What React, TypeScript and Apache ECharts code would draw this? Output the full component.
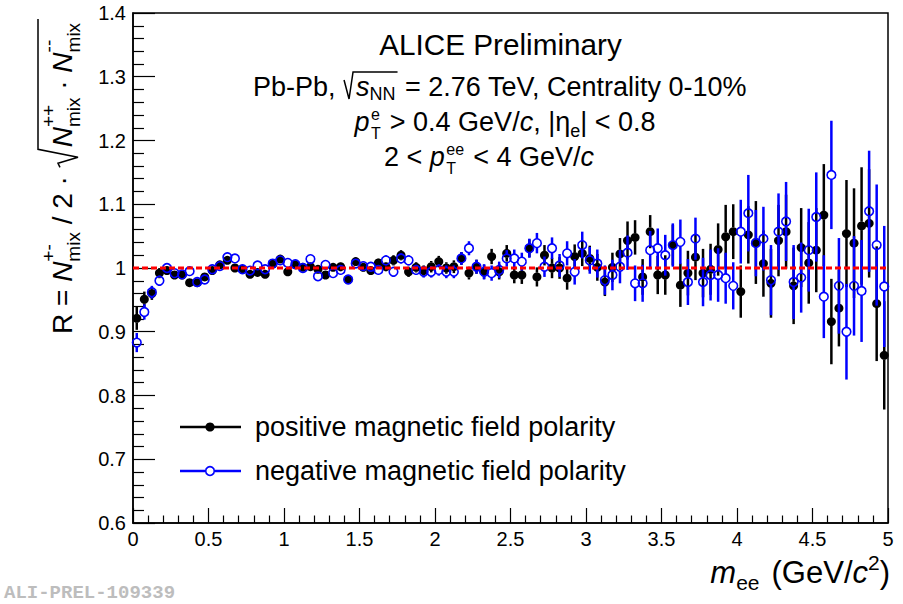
import React, { useEffect, useRef } from 'react';
import * as echarts from 'echarts';

// ---------------- data ----------------
const X_MIN = 0;
const X_MAX = 5;
const Y_MIN = 0.6;
const Y_MAX = 1.4;
const BIN_WIDTH = 0.05; // GeV/c^2, bin centres at 0.025, 0.075, ...

// positive magnetic field polarity (black, filled)
const posValues = [
  0.921, 0.951, 0.960, 0.992, 0.996, 0.989, 0.989, 0.977, 0.977, 0.986,
  0.996, 1.005, 1.012, 1.000, 0.998, 0.990, 0.993, 0.990, 1.006, 1.014,
  0.994, 1.005, 1.001, 1.002, 0.998, 0.989, 1.001, 1.002, 0.982, 1.010,
  1.001, 0.996, 1.008, 1.002, 1.012, 1.020, 0.994, 1.001, 0.996, 1.002,
  1.010, 1.000, 1.002, 1.015, 0.992, 1.002, 0.994, 1.018, 0.994, 1.023,
  0.989, 0.989, 1.031, 0.986, 1.020, 1.000, 1.000, 0.984, 1.018, 1.023,
  1.015, 1.001, 0.978, 1.001, 1.022, 1.043, 1.048, 0.986, 1.057, 0.989,
  0.989, 1.036, 0.973, 0.992, 1.017, 0.992, 0.998, 1.029, 1.049, 1.057,
  0.963, 1.052, 1.040, 1.007, 0.976, 1.043, 1.057, 0.972, 1.032, 1.008,
  1.028, 1.083, 0.916, 0.937, 1.054, 1.039, 1.066, 1.070, 0.944, 0.863,
];
const posErrors = [
  0.018, 0.012, 0.010, 0.008, 0.007, 0.006, 0.006, 0.006, 0.006, 0.006,
  0.006, 0.006, 0.006, 0.006, 0.006, 0.006, 0.006, 0.006, 0.006, 0.006,
  0.006, 0.006, 0.006, 0.006, 0.006, 0.006, 0.006, 0.007, 0.007, 0.007,
  0.007, 0.007, 0.007, 0.007, 0.008, 0.008, 0.008, 0.008, 0.008, 0.009,
  0.009, 0.009, 0.010, 0.010, 0.010, 0.011, 0.011, 0.012, 0.012, 0.013,
  0.013, 0.014, 0.014, 0.015, 0.016, 0.016, 0.017, 0.018, 0.019, 0.020,
  0.020, 0.021, 0.022, 0.023, 0.025, 0.030, 0.027, 0.028, 0.026, 0.030,
  0.031, 0.032, 0.034, 0.035, 0.036, 0.038, 0.040, 0.041, 0.050, 0.043,
  0.041, 0.045, 0.065, 0.052, 0.054, 0.056, 0.058, 0.060, 0.062, 0.064,
  0.066, 0.080, 0.067, 0.060, 0.084, 0.086, 0.092, 0.085, 0.090, 0.085,
];

// negative magnetic field polarity (blue, open)
const negValues = [
  0.883, 0.931, 0.962, 0.980, 1.000, 0.992, 0.990, 0.995, 0.978, 0.982,
  0.998, 1.003, 1.017, 1.015, 0.998, 0.996, 1.004, 0.998, 1.007, 1.012,
  1.008, 1.006, 1.000, 1.014, 0.987, 1.005, 0.992, 0.997, 0.982, 1.007,
  1.003, 1.002, 0.997, 1.012, 0.994, 1.015, 1.012, 0.997, 0.994, 0.994,
  0.997, 0.994, 0.994, 1.015, 1.031, 1.002, 0.994, 0.992, 0.997, 1.015,
  1.015, 1.010, 1.031, 1.039, 1.002, 1.031, 1.004, 1.023, 0.994, 1.036,
  1.012, 1.007, 0.981, 0.989, 1.002, 1.024, 0.976, 0.976, 1.028, 1.031,
  1.020, 1.036, 1.041, 0.978, 1.046, 0.978, 0.989, 0.989, 0.984, 0.972,
  1.057, 1.086, 1.039, 1.046, 0.981, 1.057, 1.073, 0.978, 0.985, 1.028,
  1.080, 0.955, 1.146, 0.972, 0.900, 0.972, 0.964, 1.089, 1.036, 0.971,
];
const negErrors = [
  0.015, 0.012, 0.010, 0.008, 0.007, 0.006, 0.006, 0.006, 0.006, 0.006,
  0.006, 0.006, 0.006, 0.006, 0.006, 0.006, 0.006, 0.006, 0.006, 0.006,
  0.006, 0.006, 0.006, 0.006, 0.006, 0.006, 0.007, 0.007, 0.007, 0.007,
  0.007, 0.007, 0.007, 0.008, 0.008, 0.008, 0.008, 0.008, 0.009, 0.009,
  0.009, 0.010, 0.010, 0.010, 0.011, 0.011, 0.012, 0.012, 0.013, 0.013,
  0.014, 0.014, 0.015, 0.016, 0.016, 0.017, 0.018, 0.019, 0.020, 0.021,
  0.021, 0.022, 0.023, 0.024, 0.026, 0.027, 0.028, 0.029, 0.030, 0.031,
  0.032, 0.034, 0.035, 0.036, 0.033, 0.038, 0.040, 0.042, 0.040, 0.037,
  0.050, 0.060, 0.052, 0.050, 0.055, 0.060, 0.062, 0.058, 0.055, 0.065,
  0.070, 0.065, 0.085, 0.075, 0.075, 0.078, 0.080, 0.095, 0.095, 0.095,
];

const REFERENCE_LEVEL = 1;
const legendLabels = ['positive magnetic field polarity', 'negative magnetic field polarity'];

// ---------------- text helpers ----------------
const FONT = '"Liberation Sans", Arial, Helvetica, sans-serif';
let mctx: CanvasRenderingContext2D | null = null;
function tw(t: string, s: number, it = false): number {
  if (!mctx) mctx = document.createElement('canvas').getContext('2d');
  mctx!.font = `${it ? 'italic ' : ''}${s}px "Liberation Sans", Arial, sans-serif`;
  return mctx!.measureText(t).width;
}

function txt(t: string, x: number, baseline: number, s: number, it = false, color = '#000', extra: any = {}) {
  return {
    type: 'text',
    x,
    y: baseline - 0.3465 * s,
    silent: true,
    style: {
      text: t,
      fontSize: s,
      fontStyle: it ? 'italic' : 'normal',
      fontFamily: FONT,
      fill: color,
      align: 'left',
      verticalAlign: 'middle',
      ...extra,
    },
  };
}

// two-line stacked super/subscript as one text element
function stackTxt(sup: string, sub: string, x: number, supDy: number, subDy: number, s: number) {
  const L = subDy - supDy;
  return {
    type: 'text',
    x,
    y: supDy + L / 2 - 0.3465 * s,
    silent: true,
    style: {
      text: `${sup}\n${sub}`,
      fontSize: s,
      lineHeight: L,
      fontFamily: FONT,
      fill: '#000',
      align: 'left',
      verticalAlign: 'middle',
    },
  };
}

type Piece = any;
function flow(pieces: Piece[]) {
  let x = 0;
  const els: any[] = [];
  const marks: Record<string, number> = {};
  for (const p of pieces) {
    if (p.gap !== undefined) { x += p.gap; continue; }
    if (p.mark !== undefined) { marks[p.mark] = x; continue; }
    if (p.stack) {
      els.push(stackTxt(p.sup, p.sub, x, p.supDy, p.subDy, p.s));
      x += Math.max(tw(p.sup, p.s), tw(p.sub, p.s));
      continue;
    }
    els.push(txt(p.t, x, p.dy || 0, p.s, !!p.it));
    x += tw(p.t, p.s, !!p.it);
  }
  return { els, width: x, marks };
}

function radical(pts: number[][], lw = 1.4) {
  return {
    type: 'polyline',
    silent: true,
    shape: { points: pts },
    style: { stroke: '#000', lineWidth: lw, fill: null },
  };
}

function buildGraphics() {
  const els: any[] = [];

  // "ALICE Preliminary"
  {
    const S = 29.7;
    const w = tw('ALICE Preliminary', S);
    els.push(txt('ALICE Preliminary', 500.5 - w / 2, 55, S));
  }
  // line 2: Pb-Pb, sqrt(s_NN) = 2.76 TeV, Centrality 0-10%
  {
    const S = 27, s = 18;
    const f = flow([
      { t: 'Pb-Pb, ', s: S },
      { mark: 'r0' }, { gap: 13 },
      { t: 's', s: S, it: true },
      { t: 'NN', s, dy: 4 },
      { gap: 2 }, { mark: 'r2' },
      { t: ' = 2.76 TeV, Centrality 0-10%', s: S },
    ]);
    const r0 = f.marks.r0, r2 = f.marks.r2;
    f.els.push(radical([[r0 + 1, -16], [r0 + 6, 3], [r0 + 10, -24], [r2, -24]], 1.5));
    els.push({ type: 'group', x: 500 - f.width / 2, y: 96, children: f.els });
  }
  // line 3: p_T^e > 0.4 GeV/c, |eta_e| < 0.8
  {
    const S = 27, s = 18, ss = 16;
    const f = flow([
      { t: 'p', s: S, it: true },
      { gap: 1.5 },
      { stack: true, sup: 'e', sub: 'T', s: ss, supDy: -11, subDy: 8 },
      { gap: 1.5 },
      { t: ' > 0.4 GeV/', s: S },
      { t: 'c', s: S, it: true },
      { t: ', |', s: S },
      { t: 'η', s: S },
      { t: 'e', s, dy: 6 },
      { t: '| < 0.8', s: S },
    ]);
    els.push({ type: 'group', x: 505 - f.width / 2, y: 131, children: f.els });
  }
  // line 4: 2 < p_T^ee < 4 GeV/c
  {
    const S = 27, ss = 16;
    const f = flow([
      { t: '2 < ', s: S },
      { t: 'p', s: S, it: true },
      { gap: 1.5 },
      { stack: true, sup: 'ee', sub: 'T', s: ss, supDy: -11, subDy: 8 },
      { gap: 1.5 },
      { t: ' < 4 GeV/', s: S },
      { t: 'c', s: S, it: true },
    ]);
    els.push({ type: 'group', x: 489 - f.width / 2, y: 166, children: f.els });
  }
  // y-axis title (rotated)
  {
    const S = 28, s = 19;
    const f = flow([
      { t: 'R = ', s: S },
      { t: 'N', s: S, it: true },
      { stack: true, sup: '+-', sub: 'mix', s, supDy: -17, subDy: 8 },
      { t: ' / 2 · ', s: S },
      { mark: 'r0' }, { gap: 21 },
      { t: 'N', s: S, it: true },
      { stack: true, sup: '++', sub: 'mix', s, supDy: -17, subDy: 8 },
      { t: ' · ', s: S },
      { t: 'N', s: S, it: true },
      { stack: true, sup: '--', sub: 'mix', s, supDy: -17, subDy: 8 },
      { gap: 4 }, { mark: 'r2' },
    ]);
    const r0 = f.marks.r0, r2 = f.marks.r2;
    f.els.push(radical([[r0 + 1, -12], [r0 + 5, -14], [r0 + 11, 6], [r0 + 19, -34], [r2, -34]], 1.5));
    els.push({ type: 'group', x: 72, y: 334, rotation: Math.PI / 2, children: f.els });
  }
  // x-axis title
  {
    const S = 31, s = 21;
    const f = flow([
      { t: 'm', s: S, it: true },
      { t: 'ee', s, dy: 7 },
      { gap: 12 },
      { t: '(GeV/', s: S },
      { t: 'c', s: S, it: true },
      { t: '2', s, dy: -13 },
      { t: ')', s: S },
    ]);
    els.push({ type: 'group', x: 890 - f.width, y: 583, children: f.els });
  }
  // legend
  {
    const S = 27;
    els.push({ type: 'line', silent: true, shape: { x1: 180, y1: 427, x2: 241, y2: 427 }, style: { stroke: '#000', lineWidth: 2.5 } });
    els.push({ type: 'circle', silent: true, shape: { cx: 210, cy: 427, r: 4.6 }, style: { fill: '#000' } });
    els.push(txt(legendLabels[0], 255, 436, S));
    els.push({ type: 'line', silent: true, shape: { x1: 180, y1: 471, x2: 205.5, y2: 471 }, style: { stroke: '#0000ff', lineWidth: 2.5 } });
    els.push({ type: 'line', silent: true, shape: { x1: 214.5, y1: 471, x2: 241, y2: 471 }, style: { stroke: '#0000ff', lineWidth: 2.5 } });
    els.push({ type: 'circle', silent: true, shape: { cx: 210, cy: 471, r: 4.3 }, style: { fill: 'none', stroke: '#0000ff', lineWidth: 1.6 } });
    els.push(txt(legendLabels[1], 255, 480, S));
  }
  // watermark
  els.push({
    type: 'text', x: 4, y: 593, silent: true,
    style: { text: 'ALI-PREL-109339', fontSize: 19, fontWeight: 'bold', fontFamily: '"Liberation Mono", "DejaVu Sans Mono", monospace', fill: '#bdbdbd', align: 'left', verticalAlign: 'middle' },
  });
  return els;
}

function errRender(color: string, lw: number, gap: number) {
  return (params: any, api: any) => {
    const x = api.value(0), y = api.value(1), e = api.value(2);
    const p = api.coord([x, y]);
    const top = api.coord([x, y + e]);
    const bot = api.coord([x, y - e]);
    const children: any[] = [];
    if (p[1] - top[1] > gap) children.push({ type: 'line', shape: { x1: p[0], y1: top[1], x2: p[0], y2: p[1] - gap }, style: { stroke: color, lineWidth: lw } });
    if (bot[1] - p[1] > gap) children.push({ type: 'line', shape: { x1: p[0], y1: p[1] + gap, x2: p[0], y2: bot[1] }, style: { stroke: color, lineWidth: lw } });
    return { type: 'group', children };
  };
}

export default function App() {
  const ref = useRef<HTMLDivElement>(null);
  useEffect(() => {
    if (!ref.current) return;
    const chart = echarts.init(ref.current, null, { renderer: 'svg' });
    const centres = posValues.map((_, i) => X_MIN + BIN_WIDTH * (i + 0.5));
    const posPts = posValues.map((v, i) => [centres[i], v]);
    const negPts = negValues.map((v, i) => [centres[i], v]);
    const posErr = posValues.map((v, i) => [centres[i], v, posErrors[i]]);
    const negErr = negValues.map((v, i) => [centres[i], v, negErrors[i]]);

    const axisText = { color: '#000', fontFamily: FONT };
    chart.setOption({
      animation: false,
      backgroundColor: '#fff',
      grid: { left: 133, right: 15, top: 13, bottom: 81, show: true, borderColor: '#000', borderWidth: 1.5, backgroundColor: 'transparent' },
      xAxis: {
        type: 'value', min: X_MIN, max: X_MAX, interval: 0.5,
        axisLine: { show: true, onZero: false, lineStyle: { color: '#000', width: 1.5 } },
        axisTick: { show: true, inside: true, length: 15, lineStyle: { color: '#000', width: 1.2 } },
        minorTick: { show: true, splitNumber: 5, length: 7.5, lineStyle: { color: '#000', width: 1.2 } },
        splitLine: { show: false },
        axisLabel: { ...axisText, fontSize: 20, margin: 6, formatter: (v: number) => String(Math.round(v * 10) / 10) },
      },
      yAxis: {
        type: 'value', min: Y_MIN, max: Y_MAX, interval: 0.1,
        axisLine: { show: true, onZero: false, lineStyle: { color: '#000', width: 1.5 } },
        axisTick: { show: true, inside: true, length: 22, lineStyle: { color: '#000', width: 1.2 } },
        minorTick: { show: true, splitNumber: 5, length: 11, lineStyle: { color: '#000', width: 1.2 } },
        splitLine: { show: false },
        axisLabel: {
          ...axisText, fontSize: 20, margin: 7,
          formatter: (v: number) => { const r = Math.round(v * 10) / 10; return r === 1 ? '1' : r.toFixed(1); },
        },
      },
      series: [
        { type: 'custom', name: 'posErr', renderItem: errRender('#000', 2.5, 4.2), data: posErr, encode: { x: 0, y: 1 }, z: 2, silent: true },
        { type: 'scatter', name: legendLabels[0], data: posPts, symbol: 'circle', symbolSize: 9, itemStyle: { color: '#000', opacity: 1 }, z: 3, silent: true },
        { type: 'custom', name: 'negErr', renderItem: errRender('#0000ff', 2.5, 4.2), data: negErr, encode: { x: 0, y: 1 }, z: 4, silent: true },
        { type: 'scatter', name: legendLabels[1], data: negPts, symbol: 'circle', symbolSize: 8.6, itemStyle: { color: 'rgba(255,255,255,0)', borderColor: '#0000ff', borderWidth: 1.6, opacity: 1 }, z: 5, silent: true },
        {
          type: 'line', name: 'ref', data: [[X_MIN, REFERENCE_LEVEL], [X_MAX, REFERENCE_LEVEL]], symbol: 'none', silent: true, z: 6,
          lineStyle: { color: '#ff0000', width: 3, type: [6, 3] },
        },
      ],
      graphic: { elements: buildGraphics() },
    });
    return () => chart.dispose();
  }, []);
  return <div ref={ref} style={{ position: 'absolute', left: 0, top: 0, width: 903, height: 604 }} />;
}
